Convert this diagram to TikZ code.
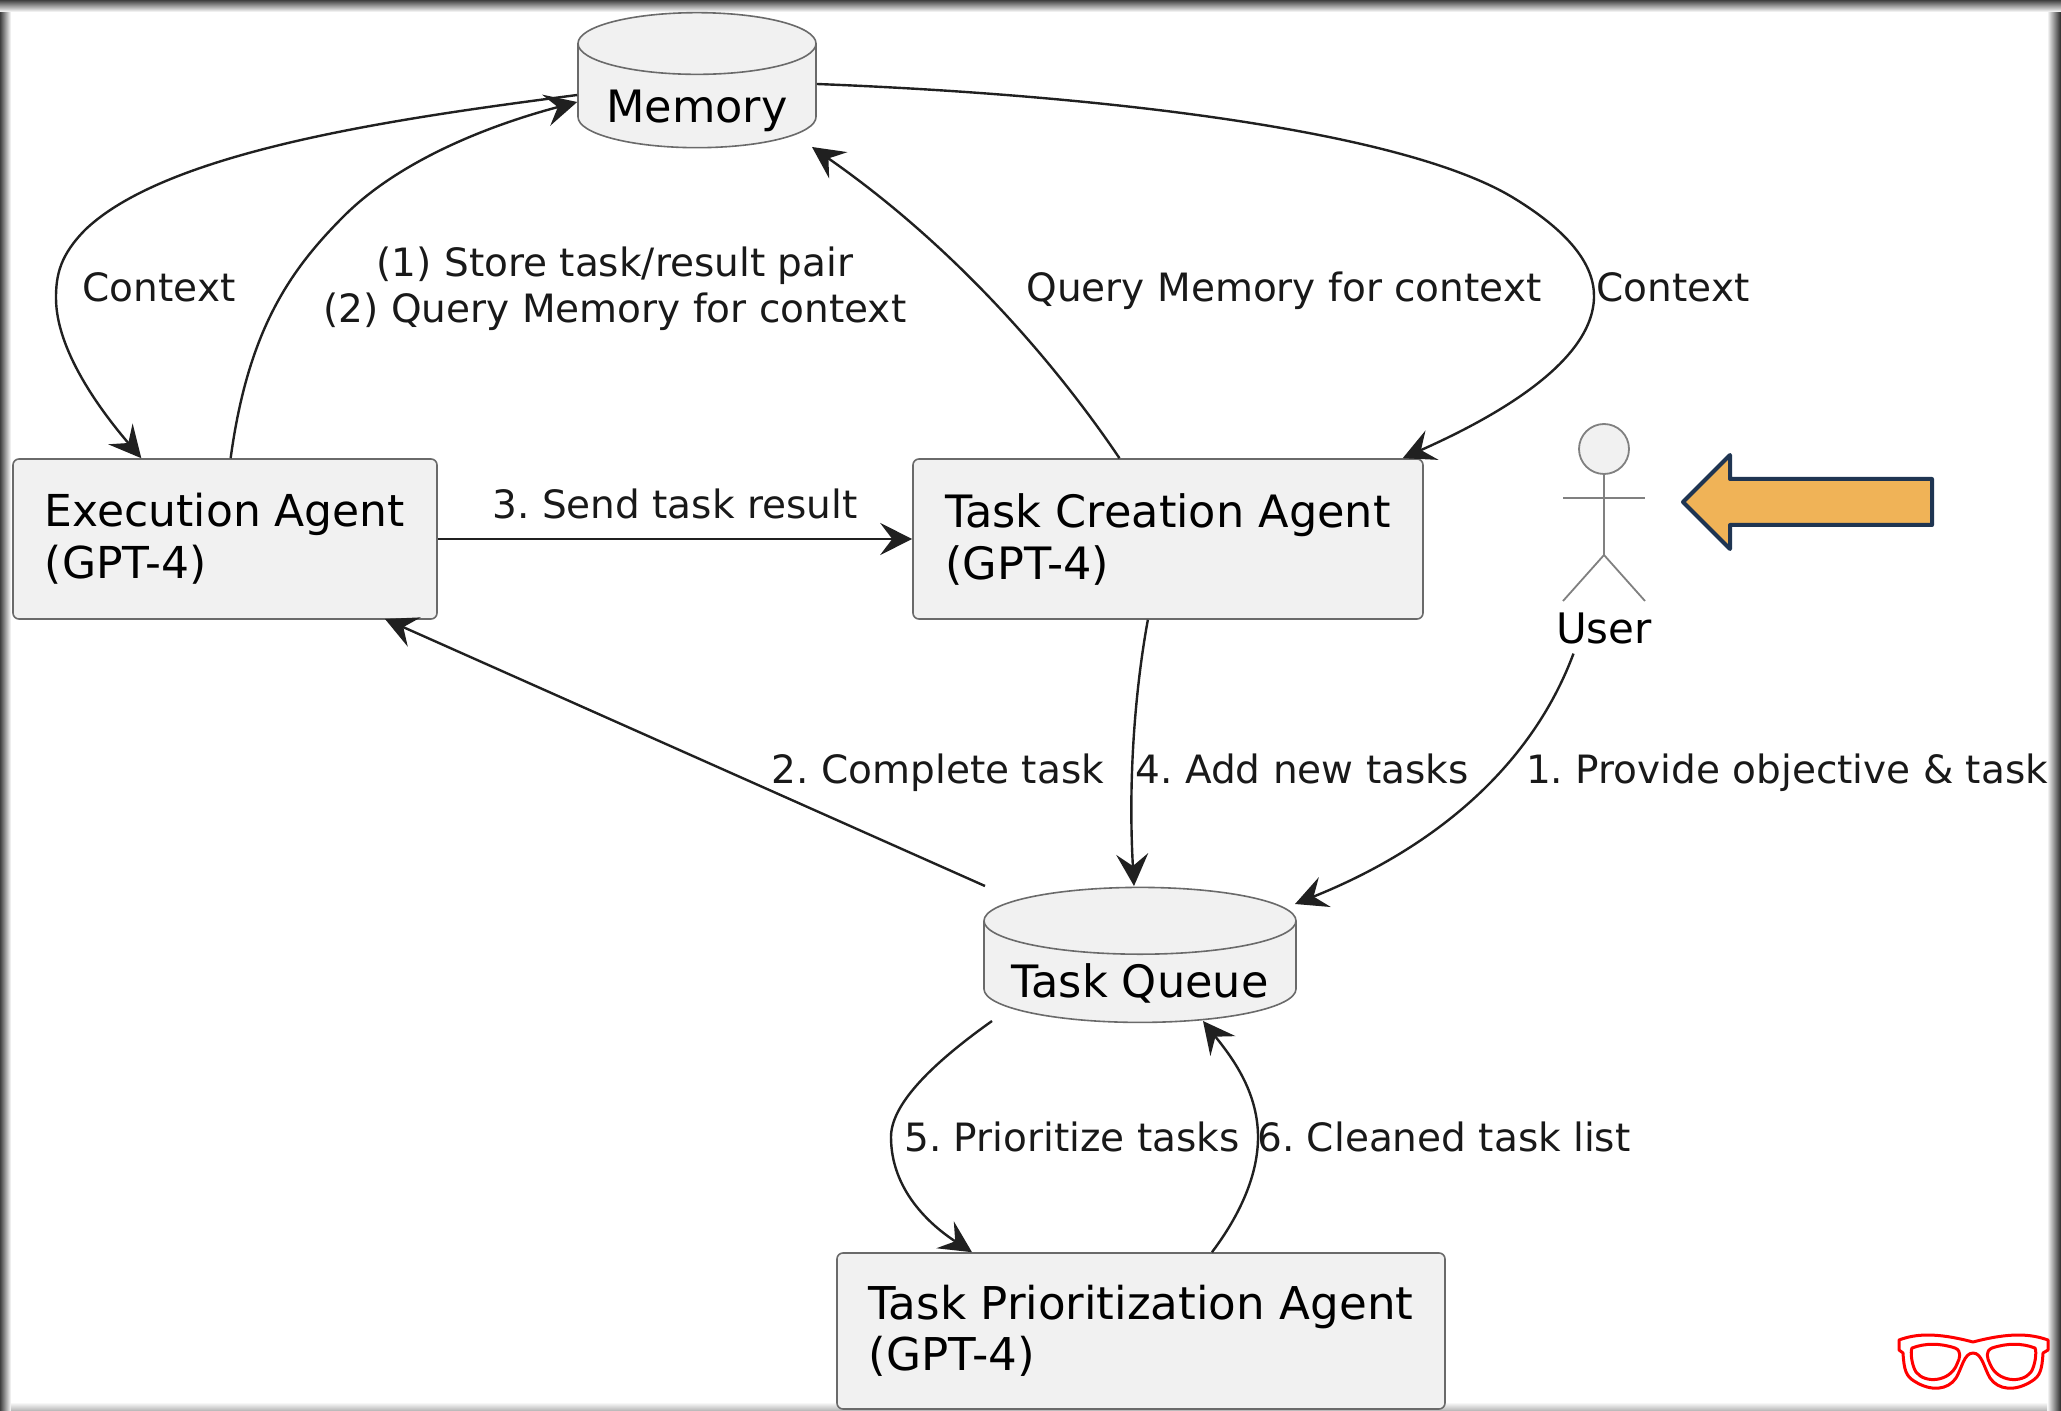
\documentclass[tikz,border=0pt]{standalone}
\usepackage{fontspec}
\setmainfont{DejaVu Sans}
\usetikzlibrary{arrows.meta,shapes.geometric}
\definecolor{boxfill}{HTML}{F1F1F1}
\definecolor{boxline}{HTML}{6A6A6A}
\definecolor{wireline}{HTML}{202020}
\definecolor{arrowfill}{HTML}{F0B357}
\definecolor{arrowline}{HTML}{1F3552}
\newcommand{\storetext}[2]{\raisebox{-#1}[0pt][0pt]{#2}}
\begin{document}
\frenchspacing
\begin{tikzpicture}[
  x=0.5pt, y=-0.5pt,
  agent/.style={rectangle, rounded corners=3pt, draw=boxline, fill=boxfill, line width=0.8pt, align=left, inner sep=0pt, font=\fontsize{22.3}{26}\selectfont},
  store/.style={cylinder, shape border rotate=90, aspect=0.26, draw=boxline, fill=boxfill, line width=0.8pt, inner sep=0pt, font=\fontsize{22.3}{26}\selectfont},
  wire/.style={-{Stealth[length=16pt,width=16pt,inset=6pt]}, line width=1.2pt, draw=wireline},
  wirelabel/.style={inner sep=0pt, align=center, text=black!90, font=\fontsize{19.5}{23}\selectfont},
  stickman/.style={line width=0.9pt, draw=black!50}
]
\useasboundingbox (0,0) rectangle (2061,1411);
\fill[white] (0,0) rectangle (2061,1411);

% Shadow round the frame
\shade[left color=black!75, right color=white] (0,0) rectangle (11,1411);
\shade[left color=white, right color=black!85] (2047,0) rectangle (2061,1411);
\shade[top color=black!75, bottom color=white] (0,0) rectangle (2061,12);
\shade[top color=white, bottom color=black!30] (11,1402) rectangle (2047,1411);

% Stores
\node (memory) at (697,96) [store, aspect=0.34, minimum width=119pt, minimum height=67.5pt] {\storetext{13.5pt}{Memory}};
\node (queue) at (1140,972) [store, minimum width=156pt, minimum height=67.5pt] {\storetext{12.5pt}{Task Queue}};

% Agents
\node (exec) at (225,539) [agent, minimum width=212pt, minimum height=80pt, font=\fontsize{22}{26}\selectfont] {Execution Agent\\(GPT-4)};
\node (taskcreate) at (1168,539) [agent, minimum width=255pt, minimum height=80pt] {Task Creation Agent\\(GPT-4)};
\node (taskprio) at (1141,1331) [agent, minimum width=304pt, minimum height=78pt, font=\fontsize{22.6}{25.5}\selectfont] {Task Prioritization Agent\\(GPT-4)};

% User figure
\node (head) at (1604,449) [circle, draw=black!50, fill=boxfill, line width=0.9pt, minimum size=25pt, inner sep=0pt] {};
\coordinate (hip) at (1604,555);
\coordinate (armleft) at (1563,498);
\coordinate (armright) at (1645,498);
\coordinate (legleft) at (1563,601);
\coordinate (legright) at (1645,601);
\draw[stickman] (head) -- (hip);
\draw[stickman] (armleft) -- (armright);
\draw[stickman] (legleft) -- (hip) -- (legright);
\node (user) at (1604,628) [inner sep=0pt, outer sep=5pt, font=\fontsize{21}{26}\selectfont] {User};

% Connections
\draw[wire] (memory.west |- 0,95) .. controls (400,118) and (170,150) .. (86,229) .. controls (60,255) and (56,275) .. (56,298) .. controls (56,350) and (100,410) .. (exec.136);
\draw[wire] (exec.86) .. controls (248,330) and (290,270) .. (344,216) .. controls (400,160) and (490,125) .. (memory.west |- 0,102);
\draw[wire] (taskcreate.121) .. controls (1060,370) and (960,250) .. (812,147);
\draw[wire] (memory.east |- 0,84) .. controls (1100,95) and (1400,130) .. (1512,197) .. controls (1570,232) and (1594,265) .. (1594,296) .. controls (1594,360) and (1500,415) .. (taskcreate.19);
\draw[wire] (exec) -- (taskcreate);
\draw[wire] (985,886) -- (385,619);
\draw[wire] (taskcreate.256) .. controls (1135,690) and (1128,780) .. (1134,886);
\draw[wire] (user.220) .. controls (1530,770) and (1430,850) .. (1295,904);
\draw[wire] (992,1021) .. controls (930,1065) and (891,1105) .. (891,1137) .. controls (891,1190) and (930,1225) .. (taskprio.155);
\draw[wire] (taskprio.48) .. controls (1240,1215) and (1258,1175) .. (1258,1137) .. controls (1258,1090) and (1230,1055) .. (1203,1021);

% Connection labels
\node (ctxleft) at (159,287) [wirelabel] {Context};
\node (storequery) at (615,289) [wirelabel] {(1) Store task/result pair\\(2) Query Memory for context};
\node (querymem) at (1284,291) [wirelabel] {Query Memory for context};
\node (ctxright) at (1673,287) [wirelabel] {Context};
\node (sendresult) at (675,504) [wirelabel] {3. Send task result};
\node (complete) at (938,773) [wirelabel] {2. Complete task};
\node (addnew) at (1302,769) [wirelabel] {4. Add new tasks};
\node (provide) at (1787,773) [wirelabel] {1. Provide objective \& task};
\node (prioritize) at (1072,1137) [wirelabel] {5. Prioritize tasks};
\node (cleaned) at (1444,1137) [wirelabel] {6. Cleaned task list};

% Pointer arrow
\draw[draw=arrowline, fill=arrowfill, line width=2pt, line join=round]
  (1683,502) -- (1730,455) -- (1730,479) -- (1932,479) -- (1932,525) -- (1730,525) -- (1730,549) -- cycle;

% Glasses mark
\draw[red, line width=1.5pt, line join=round]
  (1899,1340) .. controls (1915,1334) and (1935,1332) .. (1973,1342) .. controls (2011,1332) and (2031,1334) .. (2048,1340)
  -- (2048,1350) -- (2043,1353) .. controls (2042,1370) and (2040,1376) .. (2032,1381) .. controls (2015,1392) and (1998,1390) .. (1990,1378)
  .. controls (1984,1368) and (1982,1353) .. (1973,1353) .. controls (1964,1353) and (1962,1368) .. (1956,1378)
  .. controls (1948,1390) and (1931,1392) .. (1914,1381) .. controls (1906,1376) and (1904,1370) .. (1903,1353) -- (1899,1350) -- cycle;
\draw[red, line width=1.5pt, line join=round]
  (1912,1348) .. controls (1925,1343) and (1940,1343) .. (1955,1348) .. controls (1962,1351) and (1960,1358) .. (1957,1364)
  .. controls (1950,1382) and (1925,1384) .. (1916,1372) .. controls (1912,1366) and (1910,1352) .. (1912,1348) -- cycle;
\draw[red, line width=1.5pt, line join=round]
  (2035,1348) .. controls (2022,1343) and (2007,1343) .. (1992,1348) .. controls (1985,1351) and (1987,1358) .. (1990,1364)
  .. controls (1997,1382) and (2022,1384) .. (2031,1372) .. controls (2035,1366) and (2037,1352) .. (2035,1348) -- cycle;
\end{tikzpicture}
\end{document}
